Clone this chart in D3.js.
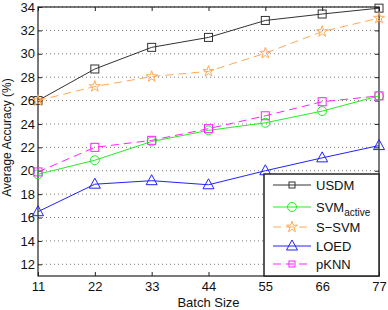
<!DOCTYPE html>
<html>
<head>
<meta charset="utf-8">
<script src="https://cdn.jsdelivr.net/npm/d3@7"></script>
<style>
  body { margin: 0; background: #fff; }
  svg { font-family: "Liberation Sans", Arial, sans-serif; }
</style>
</head>
<body>
<div id="chart"></div>
<script>
// Data
const batchSizes = [11, 22, 33, 44, 55, 66, 77];
const yTicks = [12, 14, 16, 18, 20, 22, 24, 26, 28, 30, 32, 34];
const usdm = [26.0, 28.7, 30.55, 31.4, 32.85, 33.4, 33.9];
const svmActive = [19.7, 20.9, 22.5, 23.45, 24.1, 25.1, 26.4];
const sSvm = [26.0, 27.2, 28.05, 28.5, 30.05, 31.9, 33.05];
const loed = [16.5, 18.85, 19.15, 18.8, 20.0, 21.1, 22.15];
const pKnn = [19.9, 22.0, 22.6, 23.6, 24.7, 25.9, 26.4];

const seriesList = [
  { name: "USDM", values: usdm, color: "#333333", dash: null, marker: "square" },
  { name: "SVM", sub: "active", values: svmActive, color: "#22ee22", dash: null, marker: "circle" },
  { name: "S\u2212SVM", values: sSvm, color: "#ffaa55", dash: "8,5", marker: "star" },
  { name: "LOED", values: loed, color: "#2222ff", dash: null, marker: "triangle" },
  { name: "pKNN", values: pKnn, color: "#ff22ff", dash: "8,5", marker: "square" }
];

const width = 388, height = 310;
const margin = { top: 7, right: 9, bottom: 34, left: 38 };
const w = width - margin.left - margin.right;
const h = height - margin.top - margin.bottom;

const svg = d3.select("#chart").append("svg")
  .attr("width", width).attr("height", height);
const g = svg.append("g").attr("transform", `translate(${margin.left},${margin.top})`);

const x = d3.scaleLinear().domain([11, 77]).range([0, w]);
const y = d3.scaleLinear().domain([11, 34]).range([h, 0]);

// dotted grid lines
g.append("g").selectAll("line").data(yTicks).join("line")
  .attr("x1", 0).attr("x2", w)
  .attr("y1", d => y(d)).attr("y2", d => y(d))
  .attr("stroke", "#555").attr("stroke-width", 0.8)
  .attr("stroke-dasharray", "1,3");

// axes (ticks pointing inward)
const axisStyle = sel => {
  sel.selectAll(".domain").remove();
  sel.selectAll("line").attr("stroke", "#222");
  sel.selectAll("text").attr("font-size", 13).attr("fill", "#111");
};
g.append("g").attr("transform", `translate(0,${h})`)
  .call(d3.axisBottom(x).tickValues(batchSizes).tickSizeInner(-4).tickSizeOuter(0).tickPadding(6))
  .call(axisStyle);
g.append("g")
  .call(d3.axisLeft(y).tickValues(yTicks).tickSizeInner(-4).tickSizeOuter(0).tickPadding(3))
  .call(axisStyle);
g.append("g")
  .call(d3.axisTop(x).tickValues(batchSizes).tickSizeInner(-4).tickSizeOuter(0).tickFormat(""))
  .call(axisStyle);
g.append("g").attr("transform", `translate(${w},0)`)
  .call(d3.axisRight(y).tickValues(yTicks).tickSizeInner(-4).tickSizeOuter(0).tickFormat(""))
  .call(axisStyle);

g.append("rect").attr("width", w).attr("height", h)
  .attr("fill", "none").attr("stroke", "#222").attr("stroke-width", 1.2);

// marker drawing
function drawMarker(sel, type, color, size) {
  if (type === "square") {
    sel.append("rect").attr("x", -size / 2).attr("y", -size / 2)
      .attr("width", size).attr("height", size)
      .attr("fill", "none").attr("stroke", color).attr("stroke-width", 1);
  } else if (type === "circle") {
    sel.append("circle").attr("r", size / 2 + 0.5)
      .attr("fill", "none").attr("stroke", color).attr("stroke-width", 1);
  } else if (type === "triangle") {
    const s = size + 2;
    sel.append("path")
      .attr("d", `M0,${-s / 2 - 1}L${s / 2 + 0.5},${s / 2 - 1}L${-s / 2 - 0.5},${s / 2 - 1}Z`)
      .attr("fill", "none").attr("stroke", color).attr("stroke-width", 1);
  } else if (type === "star") {
    sel.append("path")
      .attr("d", d3.symbol(d3.symbolStar, size * size * 0.6)())
      .attr("fill", "none").attr("stroke", color).attr("stroke-width", 1);
  }
}

const line = d3.line().x((d, i) => x(batchSizes[i])).y(d => y(d));

seriesList.forEach(s => {
  g.append("path").datum(s.values)
    .attr("d", line)
    .attr("fill", "none")
    .attr("stroke", s.color)
    .attr("stroke-width", 1)
    .attr("stroke-dasharray", s.dash);
  g.append("g").selectAll("g").data(s.values).join("g")
    .attr("transform", (d, i) => `translate(${x(batchSizes[i])},${y(d)})`)
    .each(function () { drawMarker(d3.select(this), s.marker, s.color, 8); });
});

// legend
const lg = g.append("g").attr("transform", `translate(${w - 115},${h - 102})`);
lg.append("rect").attr("width", 115).attr("height", 102)
  .attr("fill", "#fff").attr("stroke", "#222").attr("stroke-width", 1.5);
const legendY = [11, 33, 53, 72, 90];
seriesList.forEach((s, i) => {
  const row = lg.append("g").attr("transform", `translate(0,${legendY[i]})`);
  row.append("line").attr("x1", 9).attr("x2", 47)
    .attr("stroke", s.color).attr("stroke-width", 1)
    .attr("stroke-dasharray", s.dash);
  const m = row.append("g").attr("transform", "translate(28,0)");
  drawMarker(m, s.marker, s.color, s.marker === "square" ? 6 : 8);
  const t = row.append("text").attr("x", 52).attr("y", 5)
    .attr("font-size", 13).attr("fill", "#111").text(s.name);
  if (s.sub) {
    t.append("tspan").attr("font-size", 10).attr("dy", 4).text(s.sub);
  }
});

// axis titles
svg.append("text")
  .attr("x", margin.left + w / 2).attr("y", height - 3)
  .attr("text-anchor", "middle").attr("font-size", 13).attr("fill", "#111")
  .text("Batch Size");
svg.append("text")
  .attr("transform", `translate(11,${margin.top + h / 2 - 4}) rotate(-90)`)
  .attr("text-anchor", "middle").attr("font-size", 12).attr("fill", "#111")
  .text("Average Accuracy (%)");
</script>
</body>
</html>
